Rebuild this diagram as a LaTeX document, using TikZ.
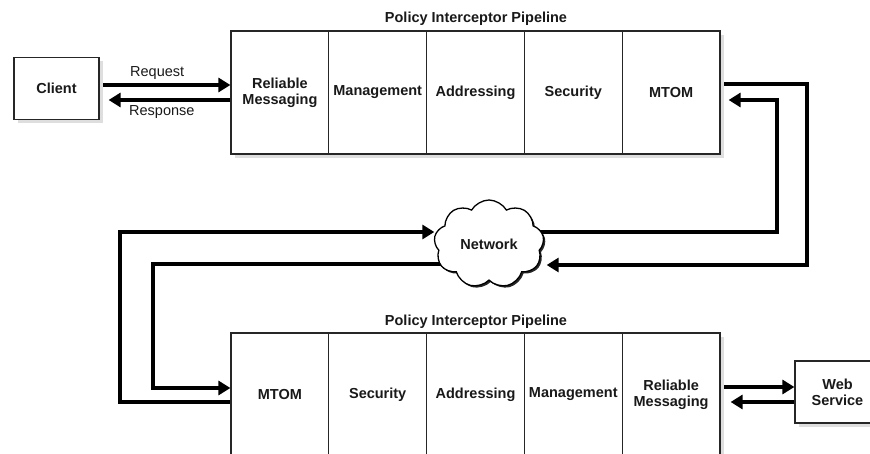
\documentclass[tikz,border=0pt]{standalone}
\usepackage{fontspec}
\setmainfont{Liberation Sans}
\usetikzlibrary{arrows.meta,shapes.symbols,shadows,backgrounds}
\begin{document}
\begin{tikzpicture}[x=1pt,y=-1pt,
  txt/.style={font=\fontsize{14.5}{16}\selectfont\bfseries, text=black!90, align=center},
  boxshadow/.style={drop shadow={shadow xshift=4pt, shadow yshift=-4pt, fill=black!13, opacity=1}},
  cell/.style={txt, draw=black!85, line width=1.2pt, fill=white, minimum width=97.8pt,
    minimum height=123pt, inner sep=0pt, boxshadow},
  endbox/.style={txt, draw=black!85, line width=1.2pt, fill=white, minimum width=85pt,
    minimum height=62pt, inner sep=0pt, boxshadow},
  title/.style={txt},
  lbl/.style={font=\fontsize{14.5}{16}\selectfont, text=black!90, inner sep=0pt},
  flow/.style={line width=3.6pt, line join=miter, -{Triangle[length=12pt,width=14pt]}},
  netcloud/.style={txt, cloud, cloud puffs=9, cloud puff arc=120, aspect=1.3, draw=black,
    line width=1.3pt, fill=white, minimum width=110pt, minimum height=88pt, inner sep=0pt,
    drop shadow={shadow xshift=1.8pt, shadow yshift=-1.8pt, fill=black, opacity=0.85}}
]
\useasboundingbox (0,0) rectangle (870,454);
\clip (0,0) rectangle (870,454);

% top pipeline
\node[title] (ttitle) at (476,19) {Policy Interceptor Pipeline};
\node[cell] (t1) at (279.9,92.5) {Reliable\\Messaging};
\node[cell] (t2) at (377.7,92.5) {Management};
\node[cell] (t3) at (475.5,92.5) {Addressing};
\node[cell] (t4) at (573.3,92.5) {Security};
\node[cell] (t5) at (671.1,92.5) {MTOM};

% bottom pipeline
\node[title] (btitle) at (476,322) {Policy Interceptor Pipeline};
\node[cell] (b1) at (279.9,394.5) {MTOM};
\node[cell] (b2) at (377.7,394.5) {Security};
\node[cell] (b3) at (475.5,394.5) {Addressing};
\node[cell] (b4) at (573.3,394.5) {Management};
\node[cell] (b5) at (671.1,394.5) {Reliable\\Messaging};

% end points
\node[endbox] (client) at (56.5,88.5) {Client};
\node[endbox] (ws) at (837.5,392) {Web\\Service};

% network
\node[netcloud] (net) at (489,244) {Network};

% labels
\node[lbl, anchor=west] (req) at (130,73) {Request};
\node[lbl, anchor=west] (resp) at (129,112) {Response};

\coordinate (respend) at ([xshift=9pt]client.east);
\coordinate (t5in) at ([xshift=8pt]t5.east);
\coordinate (netR) at ([xshift=3pt]net.east);
\coordinate (b5in) at ([xshift=10pt]b5.east);

\begin{scope}[on background layer]
\draw[flow] (client.east |- 0,85) -- (t1.west |- 0,85);
\draw[flow] (t1.west |- 0,100) -- (respend |- 0,100);
\draw[flow] (t5.east |- 0,84) -| (807,265) -- (netR |- 0,265);
\draw[flow] (net.center |- 0,232) -| (777,100) -- (t5in |- 0,100);
\draw[flow] (b1.west |- 0,402) -| (120,232) -- (net.west |- 0,232);
\draw[flow] (net.center |- 0,264) -| (153,388) -- (b1.west |- 0,388);
\draw[flow] (b5.east |- 0,387) -- (ws.west |- 0,387);
\draw[flow] (ws.west |- 0,402) -- (b5in |- 0,402);
\end{scope}
\end{tikzpicture}
\end{document}
